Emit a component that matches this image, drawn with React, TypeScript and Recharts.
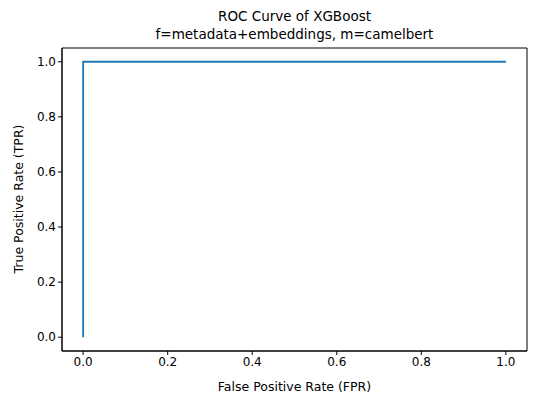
import { LineChart, Line, XAxis, YAxis, ReferenceArea, Label } from "recharts";

const fpr = [0, 0, 1];
const tpr = [0, 1, 1];
const ticks = [0, 0.2, 0.4, 0.6, 0.8, 1.0];

const data = fpr.map((x, i) => ({ fpr: x, tpr: tpr[i] }));

export default function App() {
  return (
    <div style={{ margin: -8, position: "relative", width: 536, height: 403, fontFamily: "DejaVu Sans", background: "#fff" }}>
      <div style={{ position: "absolute", top: 7, left: 62, width: 465, textAlign: "center", fontSize: 13.5, lineHeight: "18px", color: "#000" }}>
        ROC Curve of XGBoost
        <br />
        f=metadata+embeddings, m=camelbert
      </div>
      <div
        style={{
          position: "absolute",
          left: 18,
          top: 199,
          width: 0,
          height: 0,
          overflow: "visible",
        }}
      >
        <div style={{ transform: "translate(-50%, -50%) rotate(-90deg)", whiteSpace: "nowrap", fontSize: 12.5, color: "#000", position: "absolute" }}>
          True Positive Rate (TPR)
        </div>
      </div>
      <LineChart width={536} height={403} data={data} margin={{ top: 48, right: 9, bottom: 0, left: 0 }}>
        <XAxis
          dataKey="fpr"
          type="number"
          domain={[-0.05, 1.05]}
          ticks={ticks}
          tickFormatter={(v: number) => v.toFixed(1)}
          height={52}
          stroke="#000"
          tick={{ fill: "#000", fontSize: 12 }}
          tickSize={4}
        >
          <Label value="False Positive Rate (FPR)" position="insideBottom" offset={12} style={{ fill: "#000", fontSize: 12.5 }} />
        </XAxis>
        <YAxis
          dataKey="tpr"
          type="number"
          domain={[-0.05, 1.05]}
          ticks={ticks}
          tickFormatter={(v: number) => v.toFixed(1)}
          width={62}
          stroke="#000"
          tick={{ fill: "#000", fontSize: 12 }}
          tickSize={4}
        />
        <ReferenceArea x1={-0.05} x2={1.05} y1={-0.05} y2={1.05} fill="none" stroke="#000" strokeOpacity={1} ifOverflow="visible" />
        <Line type="linear" dataKey="tpr" stroke="#1f77b4" strokeWidth={1.8} dot={false} isAnimationActive={false} />
      </LineChart>
    </div>
  );
}
